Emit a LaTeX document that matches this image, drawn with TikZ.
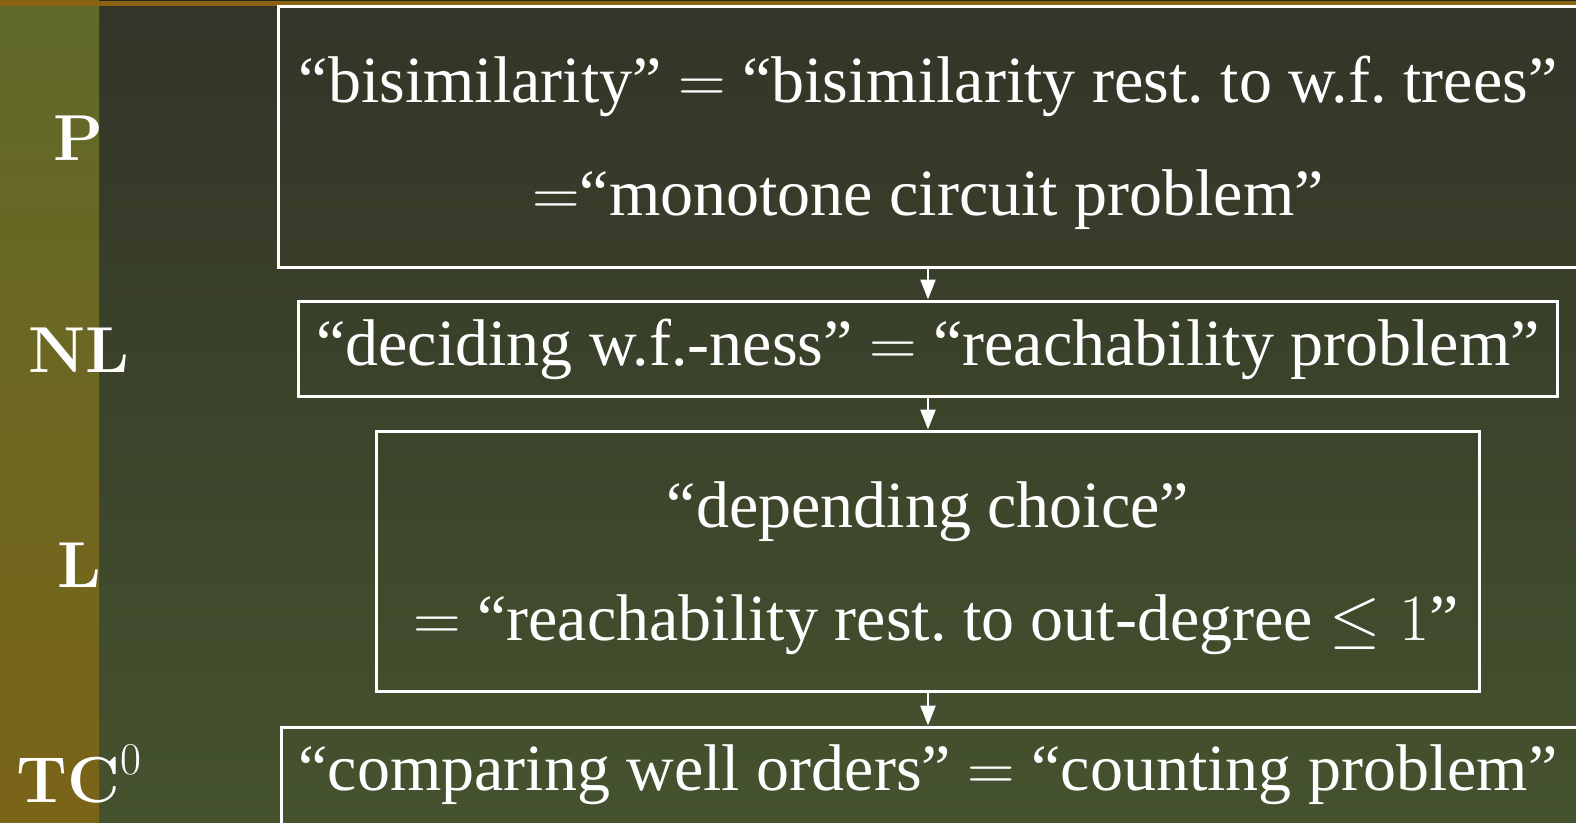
\RequirePackage{fix-cm}
\documentclass[tikz,border=0pt]{standalone}
\usepackage[no-math]{fontspec}
\setmainfont{Liberation Serif}
\usetikzlibrary{arrows.meta}
\definecolor{bgtop}{HTML}{323528}
\definecolor{bgbot}{HTML}{45522E}
\definecolor{striptop}{HTML}{616A2A}
\definecolor{stripbot}{HTML}{7A6418}
\definecolor{goldbar}{HTML}{8A6410}
\tikzset{
  box/.style={draw=white, line width=3pt, inner sep=0pt},
  txt/.style={text=white, anchor=base, inner sep=0pt, font=\fontsize{66}{78}\selectfont},
  lvl/.style={text=white, anchor=base, inner sep=0pt, font=\fontsize{65}{78}\selectfont},
  arr/.style={draw=white, line width=2.5pt, -{Triangle[length=20pt,width=15pt]}},
}
\begin{document}
\begin{tikzpicture}[x=1pt,y=-1pt]
  \useasboundingbox (0,0) rectangle (1576,822);
  % backgrounds
  \shade[top color=bgtop, bottom color=bgbot] (0,0) rectangle (1576,822);
  \shade[top color=striptop, bottom color=stripbot] (0,0) rectangle (99,822);
  \fill[goldbar] (0,0) rectangle (1576,6);
  \fill[bgtop!80!black] (99,0) rectangle (1576,1);

  % complexity classes
  \node[lvl] (cP)  at (78,160)  {$\mathbf{P}$};
  \node[lvl] (cNL) at (79,372)  {$\mathbf{NL}$};
  \node[lvl] (cL)  at (79,587)  {$\mathbf{L}$};
  \node[lvl] (cTC) at (79,802)  {$\mathbf{TC}^0$};

  % boxes
  \node[box, minimum width=1302pt, minimum height=261pt] (box1) at (929,137) {};
  \node[box, minimum width=1259pt, minimum height=95pt]  (box2) at (927.5,348.5) {};
  \node[box, minimum width=1103pt, minimum height=260pt] (box3) at (927.5,561) {};
  \node[box, minimum width=1296pt, minimum height=98pt]  (box4) at (929,776) {};

  % box texts
  \node[txt] (t1a) at (928,102) {``bisimilarity'' $=$ ``bisimilarity rest.\ to w.f.\ trees''};
  \node[txt] (t1b) at (928,215) {$=$``monotone circuit problem''};
  \node[txt] (t2)  at (928,365) {``deciding w.f.-ness'' $=$ ``reachability problem''};
  \node[txt] (t3a) at (928,527) {``depending choice''};
  \node[txt] (t3b) at (936,640) {$=$ ``reachability rest.\ to out-degree $\leq 1$''};
  \node[txt] (t4)  at (928,790) {``comparing well orders'' $=$ ``counting problem''};

  % connectors
  \coordinate (ax) at (928,0);
  \draw[arr] (box1.south -| ax) -- (box2.north -| ax);
  \draw[arr] (box2.south -| ax) -- (box3.north -| ax);
  \draw[arr] (box3.south -| ax) -- (box4.north -| ax);
\end{tikzpicture}
\end{document}
